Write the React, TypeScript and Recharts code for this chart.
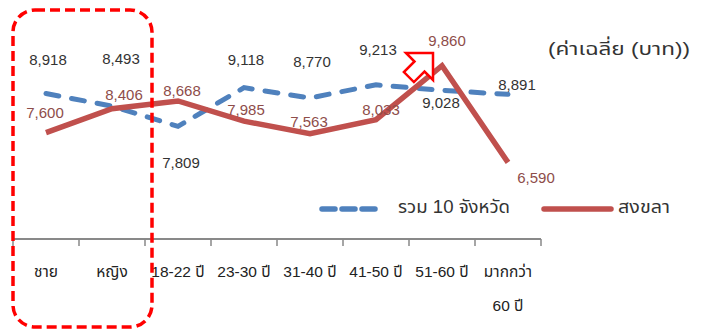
import React from 'react';
import { ComposedChart, Line, XAxis, YAxis, LabelList } from 'recharts';

const categories = ['ชาย', 'หญิง', '18-22 ปี', '23-30 ปี', '31-40 ปี', '41-50 ปี', '51-60 ปี', 'มากกว่า\n60 ปี'];
const total10 = [8918, 8493, 7809, 9118, 8770, 9213, 9028, 8891];
const songkhla = [7600, 8406, 8668, 7985, 7563, 8033, 9860, 6590];

// where each value label sits, relative to its point (dx, dy)
const total10LabelOffset = [[2, -34], [9, -48], [3, 36], [2, -28], [2, -36], [2, -35], [-1, 12], [9, -10]];
const songkhlaLabelOffset = [[-1, -20], [12, -14], [4, -10], [2, -12], [-1, -12], [5, -10], [5, -25], [28, 15]];

const data = categories.map((name, i) => ({ name, total10: total10[i], songkhla: songkhla[i] }));

const FONT = '"Liberation Sans", Arial, "Noto Sans Thai", Tahoma, sans-serif';
const BLUE = '#4F81BD';
const RED = '#C0504D';
const AXIS = '#898989';
const W = 705;
const H = 334;
const PLOT_LEFT = 13;
const PLOT_RIGHT = 541;
const BAND = (PLOT_RIGHT - PLOT_LEFT) / categories.length;

function CategoryTick(props: any) {
  const { x, y, payload, index } = props;
  const top = y - 7;
  const lines = String(payload.value).split('\n');
  return (
    <g>
      <line x1={x - BAND / 2} x2={x - BAND / 2} y1={top} y2={top + 7} stroke={AXIS} strokeWidth={1.5} />
      {index === categories.length - 1 && (
        <line x1={x + BAND / 2} x2={x + BAND / 2} y1={top} y2={top + 7} stroke={AXIS} strokeWidth={1.5} />
      )}
      {lines.map((l, i) => (
        <text key={i} x={x} y={top + 38 + i * 34} textAnchor="middle" fontSize={15.5} fill="#222" fontFamily={FONT}>
          {l}
        </text>
      ))}
    </g>
  );
}

function valueLabel(offsets: number[][], color: string) {
  return (props: any) => {
    const { x, y, value, index } = props;
    const [dx, dy] = offsets[index] || [0, -15];
    return (
      <text
        x={x + dx}
        y={y + dy}
        textAnchor="middle"
        dominantBaseline="central"
        fontSize={15}
        fill={color}
        fontFamily={FONT}
      >
        {Number(value).toLocaleString('en-US')}
      </text>
    );
  };
}

export default function App() {
  return (
    <div style={{ position: 'absolute', left: 0, top: 0, width: W, height: H, background: '#fff', fontFamily: FONT }}>
      <ComposedChart
        width={W}
        height={H}
        data={data}
        margin={{ top: 32, right: W - PLOT_RIGHT, bottom: 15, left: PLOT_LEFT }}
      >
        <XAxis
          dataKey="name"
          scale="band"
          interval={0}
          height={80}
          tickSize={7}
          tickMargin={0}
          tickLine={false}
          axisLine={{ stroke: AXIS, strokeWidth: 2 }}
          tick={<CategoryTick />}
        />
        <YAxis hide domain={[4000, 11000]} />
        <Line
          dataKey="total10"
          stroke={BLUE}
          strokeWidth={5}
          strokeDasharray="13 13"
          strokeLinecap="round"
          dot={false}
          isAnimationActive={false}
        >
          <LabelList dataKey="total10" content={valueLabel(total10LabelOffset, '#333')} />
        </Line>
        <Line
          dataKey="songkhla"
          stroke={RED}
          strokeWidth={5.5}
          dot={false}
          isAnimationActive={false}
        >
          <LabelList dataKey="songkhla" content={valueLabel(songkhlaLabelOffset, '#8E4D4A')} />
        </Line>
      </ComposedChart>

      <svg width={W} height={H} style={{ position: 'absolute', left: 0, top: 0, pointerEvents: 'none' }}>
        <text x={548} y={55} fontSize={18.5} fill="#333" fontFamily={FONT} textLength={142} lengthAdjust="spacingAndGlyphs">
          (ค่าเฉลี่ย (บาท))
        </text>

        {/* legend */}
        <line x1={322} x2={380} y1={209} y2={209} stroke={BLUE} strokeWidth={5.5} strokeDasharray="13 7" strokeLinecap="round" />
        <text x={398} y={213} fontSize={18} fill="#333" fontFamily={FONT} textLength={112} lengthAdjust="spacingAndGlyphs">
          รวม 10 จังหวัด
        </text>
        <line x1={544} x2={611} y1={209} y2={209} stroke={RED} strokeWidth={5.5} strokeLinecap="round" />
        <text x={618} y={213} fontSize={18} fill="#333" fontFamily={FONT} textLength={52} lengthAdjust="spacingAndGlyphs">
          สงขลา
        </text>

        {/* highlight box and arrow */}
        <rect x={13} y={10} width={139} height={317} rx={22} fill="none" stroke="#FF0000" strokeWidth={3.5} strokeDasharray="10 5" />
        <polygon
          points="433,53 433,80 424.5,71.5 413.9,82.1 403.9,72.1 414.5,61.5 406,53"
          fill="#fff"
          stroke="#FF0000"
          strokeWidth={2.5}
          strokeLinejoin="miter"
        />
      </svg>
    </div>
  );
}
